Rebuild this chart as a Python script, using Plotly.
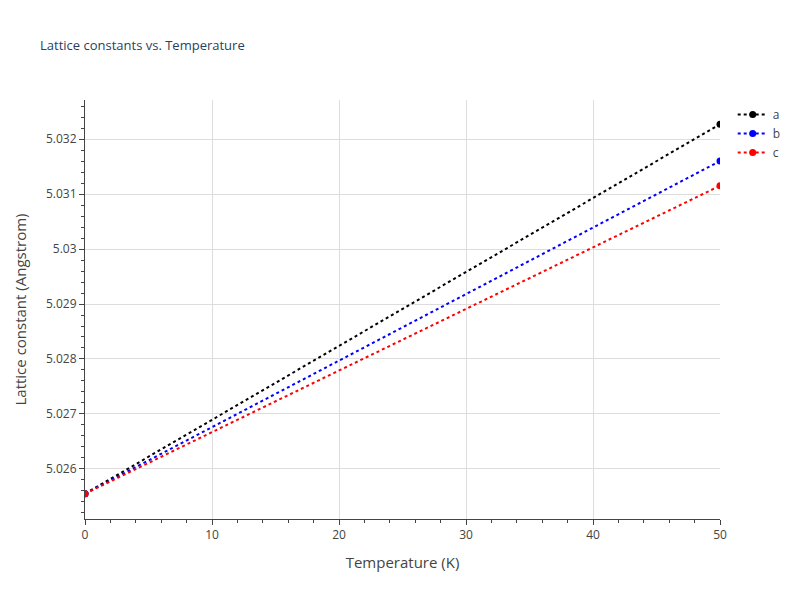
import plotly.graph_objects as go

temps = [0, 50]
a_vals = [5.02555, 5.03227]
b_vals = [5.02555, 5.03160]
c_vals = [5.02555, 5.03115]

fig = go.Figure()
for name, vals, col in [("a", a_vals, "black"), ("b", b_vals, "blue"), ("c", c_vals, "red")]:
    fig.add_trace(go.Scatter(x=temps, y=vals, name=name, mode="lines+markers",
                             line=dict(color=col, dash="dot", width=2),
                             marker=dict(color=col, size=7)))

axis_common = dict(showline=True, linecolor="#444", ticks="outside", tickcolor="#444",
                   minor=dict(ticks="outside", tickcolor="#444", ticklen=3, showgrid=False),
                   gridcolor="#ddd", zeroline=False, tickfont=dict(size=12, color="#444"))
fig.update_layout(
    template="plotly_white",
    width=800, height=600,
    title=dict(text="Lattice constants vs. Temperature", font=dict(size=13, color="#2a3f5f"), x=0.04, y=0.945),
    margin=dict(l=72, r=88, t=92, b=89),
    xaxis=dict(title=dict(text="Temperature (K)", font=dict(size=15, color="#444")), range=[0, 50], dtick=10,
               **axis_common),
    yaxis=dict(title=dict(text="Lattice constant (Angstrom)", font=dict(size=15, color="#444")),
               range=[5.02509, 5.03271], dtick=0.001, **axis_common),
    legend=dict(x=1.02, y=1, font=dict(size=12, color="#444")),
)
fig.write_html("out.html")
